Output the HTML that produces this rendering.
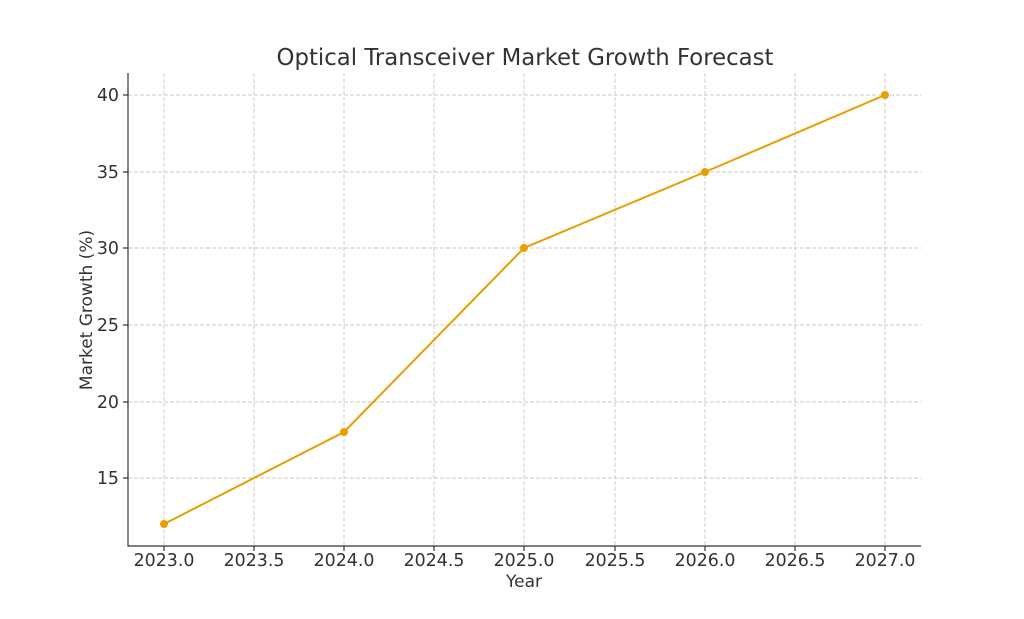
<!DOCTYPE html>
<html><head><meta charset="utf-8"><style>
body{margin:0;background:#fff;}
svg text{font-family:"DejaVu Sans","Liberation Sans",sans-serif;fill:#333;}
</style></head><body>
<svg width="1024" height="614" xmlns="http://www.w3.org/2000/svg">
<rect width="1024" height="614" fill="#fff"/>
<g stroke="#c8c8c8" stroke-width="0.9" stroke-dasharray="4,2">
<line x1="164" y1="73" x2="164" y2="546"/><line x1="254" y1="73" x2="254" y2="546"/>
<line x1="344" y1="73" x2="344" y2="546"/><line x1="434" y1="73" x2="434" y2="546"/>
<line x1="524" y1="73" x2="524" y2="546"/><line x1="615" y1="73" x2="615" y2="546"/>
<line x1="705" y1="73" x2="705" y2="546"/><line x1="795" y1="73" x2="795" y2="546"/>
<line x1="885" y1="73" x2="885" y2="546"/>
<line x1="128" y1="95" x2="921" y2="95"/><line x1="128" y1="172" x2="921" y2="172"/>
<line x1="128" y1="248" x2="921" y2="248"/><line x1="128" y1="325" x2="921" y2="325"/>
<line x1="128" y1="402" x2="921" y2="402"/><line x1="128" y1="478" x2="921" y2="478"/>
</g>
<g stroke="#333" stroke-width="1.2">
<line x1="128" y1="73" x2="128" y2="546.5"/><line x1="127.5" y1="546" x2="921" y2="546"/>
<line x1="164" y1="546" x2="164" y2="551"/><line x1="254" y1="546" x2="254" y2="551"/>
<line x1="344" y1="546" x2="344" y2="551"/><line x1="434" y1="546" x2="434" y2="551"/>
<line x1="524" y1="546" x2="524" y2="551"/><line x1="615" y1="546" x2="615" y2="551"/>
<line x1="705" y1="546" x2="705" y2="551"/><line x1="795" y1="546" x2="795" y2="551"/>
<line x1="885" y1="546" x2="885" y2="551"/>
<line x1="123" y1="95" x2="128" y2="95"/><line x1="123" y1="172" x2="128" y2="172"/>
<line x1="123" y1="248" x2="128" y2="248"/><line x1="123" y1="325" x2="128" y2="325"/>
<line x1="123" y1="402" x2="128" y2="402"/><line x1="123" y1="478" x2="128" y2="478"/>
</g>
<g font-size="17.4" text-anchor="middle">
<text x="164" y="566">2023.0</text><text x="254" y="566">2023.5</text>
<text x="344" y="566">2024.0</text><text x="434" y="566">2024.5</text>
<text x="524" y="566">2025.0</text><text x="615" y="566">2025.5</text>
<text x="705" y="566">2026.0</text><text x="795" y="566">2026.5</text>
<text x="885" y="566">2027.0</text>
</g>
<g font-size="17.4" text-anchor="end">
<text x="119" y="101">40</text><text x="119" y="178">35</text>
<text x="119" y="254">30</text><text x="119" y="331">25</text>
<text x="119" y="408">20</text><text x="119" y="484">15</text>
</g>
<text x="524" y="587" font-size="17" text-anchor="middle">Year</text>
<text transform="translate(92,310) rotate(-90)" font-size="17" text-anchor="middle">Market Growth (%)</text>
<text x="525" y="65" font-size="22.8" text-anchor="middle">Optical Transceiver Market Growth Forecast</text>
<polyline points="164,524 344,432 524,248 705,172 885,95" fill="none" stroke="#E69F00" stroke-width="2"/>
<g fill="#E69F00">
<circle cx="164" cy="524" r="4"/><circle cx="344" cy="432" r="4"/><circle cx="524" cy="248" r="4"/>
<circle cx="705" cy="172" r="4"/><circle cx="885" cy="95" r="4"/>
</g>
</svg>
</body></html>
